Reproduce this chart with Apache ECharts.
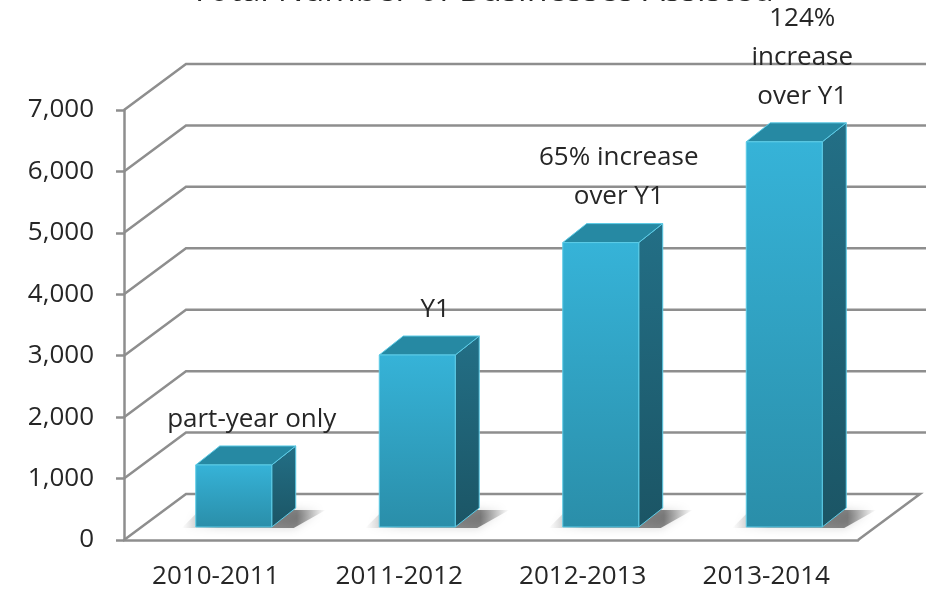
<!DOCTYPE html>
<html>
<head>
<meta charset="utf-8">
<title>Total Number of Businesses Assisted</title>
<script src="https://cdn.jsdelivr.net/npm/echarts@6/dist/echarts.min.js"></script>
<style>
  html, body { margin: 0; padding: 0; background: #fff; }
  #chart { width: 926px; height: 593px; }
</style>
</head>
<body>
<div id="chart"></div>
<script>
// chart data
const categories = ['2010-2011', '2011-2012', '2012-2013', '2013-2014']
const businesses = [1010, 2800, 4630, 6270]
const barNotes = ['part-year only', 'Y1', '65% increase\nover Y1', '124%\nincrease\nover Y1']
const yTicks = [0, 1000, 2000, 3000, 4000, 5000, 6000, 7000]

const FONT = '"Open Sans", "Noto Sans", sans-serif'
const GRID_COLOR = '#8e8e8e'
const TEXT_COLOR = '#262626'

const wallShift = [62, -46] // back wall offset from the front plane
const barShift = [18, -13]  // bar front face offset from the front plane
const barDepth = [24, -19]  // bar depth

const chart = echarts.init(document.getElementById('chart'))

// back wall + floor lines, one per tick value
function renderWall(params, api) {
  const cs = params.coordSys
  const y = api.coord([0, api.value(1)])[1]
  const x0 = cs.x
  const x1 = cs.x + cs.width
  let points
  if (api.value(1) === 0) {
    points = [[x0, y], [x0 + wallShift[0], y + wallShift[1]], [x1 + wallShift[0], y + wallShift[1]], [x1, y]]
  } else {
    points = [[x0, y], [x0 + wallShift[0], y + wallShift[1]], [940, y + wallShift[1]]]
  }
  return {
    type: 'polyline',
    shape: { points },
    style: { stroke: GRID_COLOR, lineWidth: 2.5, fill: null }
  }
}

// 3d column
function renderBar(params, api) {
  const i = api.value(0)
  const base = api.coord([i, 0])
  const top = api.coord([i, api.value(1)])
  const w = api.size([1, 0])[0] * 0.414
  const cx = base[0] + barShift[0]
  const xl = cx - w / 2
  const xr = cx + w / 2
  const yb = base[1] + barShift[1]
  const yt = top[1] + barShift[1]
  const dx = barDepth[0]
  const dy = barDepth[1]
  const edge = '#5ccbe6'
  return {
    type: 'group',
    children: [
      {
        // soft floor shadow
        type: 'polygon',
        shape: { points: [[xl - 14, yb + 1], [xr + 22, yb + 1], [xr + 30 + dx, yb + dy + 2], [xl + 4, yb + dy + 2]] },
        style: {
          fill: { type: 'linear', x: 0, y: 0, x2: 1, y2: 0, colorStops: [
            { offset: 0, color: 'rgba(0,0,0,0)' },
            { offset: 0.25, color: 'rgba(0,0,0,0.35)' },
            { offset: 0.8, color: 'rgba(0,0,0,0.45)' },
            { offset: 1, color: 'rgba(0,0,0,0)' }
          ] },
          shadowBlur: 10,
          shadowColor: 'rgba(0,0,0,0.35)'
        }
      },
      {
        type: 'polygon',
        shape: { points: [[xr, yt], [xr + dx, yt + dy], [xr + dx, yb + dy], [xr, yb]] },
        style: {
          fill: { type: 'linear', x: 0, y: 0, x2: 0, y2: 1, colorStops: [{ offset: 0, color: '#236f86' }, { offset: 1, color: '#1b5565' }] },
          stroke: edge, lineWidth: 1
        }
      },
      {
        type: 'polygon',
        shape: { points: [[xl, yt], [xr, yt], [xr + dx, yt + dy], [xl + dx, yt + dy]] },
        style: { fill: '#2689a3', stroke: edge, lineWidth: 1 }
      },
      {
        type: 'rect',
        shape: { x: xl, y: yt, width: w, height: yb - yt },
        style: {
          fill: { type: 'linear', x: 0, y: 0, x2: 0, y2: 1, colorStops: [{ offset: 0, color: '#36b3d8' }, { offset: 1, color: '#2a8ea9' }] },
          stroke: edge, lineWidth: 1
        }
      },
      {
        type: 'text',
        x: cx + 18,
        y: yt + dy - 7,
        style: {
          text: barNotes[i],
          font: '26px ' + FONT,
          fill: TEXT_COLOR,
          align: 'center',
          verticalAlign: 'bottom',
          lineHeight: 39
        }
      }
    ]
  }
}

chart.setOption({
  animation: false,
  backgroundColor: '#fff',
  graphic: [{
    type: 'text',
    x: 482,
    y: -9,
    style: {
      text: 'Total Number of Businesses Assisted',
      font: '34px ' + FONT,
      fill: TEXT_COLOR,
      align: 'center',
      verticalAlign: 'middle'
    }
  }],
  grid: { left: 124, right: 68, top: 110, bottom: 53 },
  xAxis: {
    type: 'category',
    data: categories,
    axisLine: { lineStyle: { color: GRID_COLOR, width: 2.5 } },
    axisTick: { length: 8, lineStyle: { color: GRID_COLOR, width: 2.5 } },
    axisLabel: { color: TEXT_COLOR, fontSize: 26, fontFamily: FONT, margin: 24 }
  },
  yAxis: {
    type: 'value',
    min: 0,
    max: 7000,
    interval: 1000,
    axisLine: { show: true, lineStyle: { color: GRID_COLOR, width: 2.5 } },
    axisTick: { show: true, length: 8, lineStyle: { color: GRID_COLOR, width: 2.5 } },
    axisLabel: {
      color: TEXT_COLOR, fontSize: 26, fontFamily: FONT, margin: 30,
      formatter: v => v.toLocaleString('en-US')
    },
    splitLine: { show: false }
  },
  series: [
    {
      type: 'custom',
      z: 1,
      silent: true,
      renderItem: renderWall,
      data: yTicks.map(v => [0, v])
    },
    {
      type: 'custom',
      z: 3,
      renderItem: renderBar,
      data: businesses.map((v, i) => [i, v])
    }
  ]
})
</script>
</body>
</html>
